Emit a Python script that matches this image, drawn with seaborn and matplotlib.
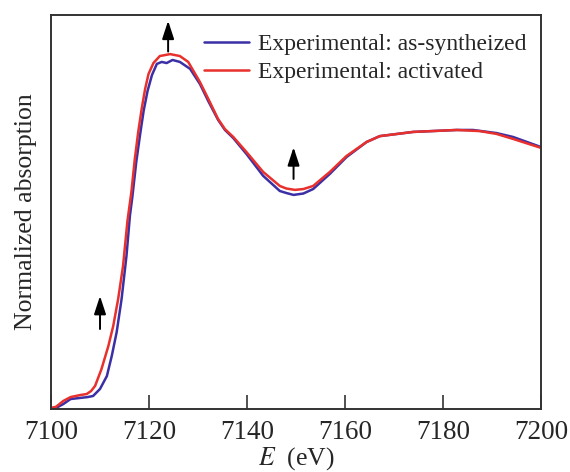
import numpy as np
import pandas as pd
import matplotlib
matplotlib.use("Agg")
import matplotlib.pyplot as plt
import seaborn as sns

# Fe K-edge XANES, normalized absorption vs photon energy
energy_syn = [7100, 7101, 7102.5, 7104, 7106, 7107.5, 7108.6, 7110, 7111.4, 7112.4,
              7113.4, 7114.4, 7115.4, 7116.1, 7116.6, 7117.4, 7118.2, 7118.9, 7119.7,
              7120.6, 7121.6, 7122.6, 7123.6, 7124.8, 7126.3, 7128.4, 7130.4, 7132.1,
              7134.1, 7135.5, 7137.2, 7139.9, 7143.3, 7146.7, 7148, 7149.5, 7151.5,
              7153.5, 7156.9, 7160.3, 7164.4, 7167.1, 7173.9, 7182.8, 7186.1, 7190.9,
              7194.3, 7200]
mu_syn = [0.000, 0.000, 0.014, 0.032, 0.036, 0.039, 0.043, 0.068, 0.114, 0.186,
          0.271, 0.389, 0.543, 0.686, 0.754, 0.879, 0.979, 1.061, 1.132,
          1.189, 1.229, 1.236, 1.232, 1.243, 1.236, 1.211, 1.157, 1.096,
          1.029, 0.993, 0.964, 0.907, 0.829, 0.775, 0.768, 0.761, 0.766,
          0.782, 0.836, 0.896, 0.950, 0.971, 0.986, 0.993, 0.993, 0.982,
          0.968, 0.932]

energy_act = [7100, 7101, 7102.5, 7104, 7105.9, 7107.3, 7108.2, 7109, 7110.3, 7111.7,
              7112.7, 7113.7, 7114.7, 7115.6, 7116.4, 7117.1, 7117.8, 7118.5, 7119.2,
              7119.9, 7120.9, 7122.2, 7124.3, 7126.3, 7128, 7130.4, 7132.1, 7134.1,
              7135.5, 7137.2, 7139.9, 7143.3, 7146.7, 7148, 7149.8, 7151.5, 7153.5,
              7156.9, 7160.3, 7164.4, 7167.1, 7173.9, 7182.8, 7187.5, 7190.9, 7194.3,
              7200]
mu_act = [0.000, 0.004, 0.025, 0.039, 0.046, 0.050, 0.061, 0.079, 0.139, 0.221,
          0.293, 0.389, 0.507, 0.668, 0.771, 0.889, 0.986, 1.068, 1.139,
          1.193, 1.232, 1.257, 1.264, 1.257, 1.236, 1.164, 1.104, 1.032,
          0.996, 0.968, 0.914, 0.843, 0.793, 0.784, 0.779, 0.782, 0.793,
          0.843, 0.900, 0.950, 0.971, 0.986, 0.993, 0.989, 0.979, 0.961,
          0.929]

labels = ["Experimental: as-syntheized", "Experimental: activated"]
colors = ["#3b2fa6", "#e8302c"]

# arrows marking where absorption increases on activation: (E, tail, head)
arrow_E = [7110, 7123.9, 7149.5]
arrow_tail = [0.282, 1.273, 0.818]
arrow_head = [0.400, 1.383, 0.931]

df = pd.concat([
    pd.DataFrame({"E": energy_syn, "mu": mu_syn, "sample": labels[0]}),
    pd.DataFrame({"E": energy_act, "mu": mu_act, "sample": labels[1]}),
], ignore_index=True)

sns.set_theme(style="white")
plt.rcParams["font.family"] = ["Liberation Serif", "DejaVu Serif"]
plt.rcParams["mathtext.fontset"] = "stix"

fig = plt.figure(figsize=(5.70, 4.72), dpi=100)
ax = fig.add_axes([0.0895, 0.1335, 0.8596, 0.8347])

sns.lineplot(data=df, x="E", y="mu", hue="sample", palette=colors,
             hue_order=labels, linewidth=1.8, sort=False, estimator=None, ax=ax)
for line in ax.get_lines():
    line.set_solid_joinstyle("round")

for e, t, h in zip(arrow_E, arrow_tail, arrow_head):
    ax.annotate("", xy=(e, h), xytext=(e, t),
                arrowprops=dict(arrowstyle="-|>,head_length=1.1,head_width=0.36",
                                mutation_scale=10, color="black", lw=1.4,
                                shrinkA=0, shrinkB=0))

ax.set_xlim(7100, 7200)
ax.set_ylim(-0.0036, 1.4036)
ax.set_xticks([7100, 7120, 7140, 7160, 7180, 7200])
ax.set_yticks([])
ax.tick_params(axis="x", direction="in", length=10, width=1.2, color="#333333",
               labelsize=19.5, pad=8, bottom=True)
ax.set_xlabel("$E$  (eV)", fontsize=18.5, labelpad=0)
ax.set_ylabel("Normalized absorption", fontsize=18.5, labelpad=10)

for s in ax.spines.values():
    s.set_color("#333333")
    s.set_linewidth(1.4)

leg = ax.legend(loc="upper right", bbox_to_anchor=(1.01, 1.0), frameon=False,
                fontsize=17, handlelength=1.9, handletextpad=0.4,
                labelspacing=0.25, borderaxespad=0.4)
for line in leg.get_lines():
    line.set_linewidth(1.8)

fig.savefig("out.png", dpi=100)
